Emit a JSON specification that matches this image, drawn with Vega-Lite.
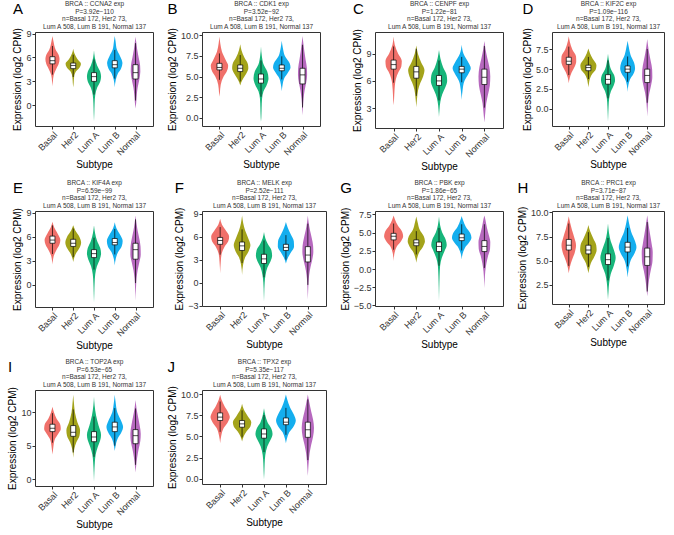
{
"$schema":"https://vega.github.io/schema/vega-lite/v6.json",
"background":"white",
"padding":{"left":7,"top":0,"right":2,"bottom":2},
"columns":4,
"spacing":{"row":6,"column":12},
"datasets":{
"violin":[
{"gene":"CCNA2","g":"Basal","v":8.7,"w":0},{"gene":"CCNA2","g":"Basal","v":8.0,"w":0.05},{"gene":"CCNA2","g":"Basal","v":7.0,"w":0.15},{"gene":"CCNA2","g":"Basal","v":6.3,"w":0.3},{"gene":"CCNA2","g":"Basal","v":5.8,"w":0.34},{"gene":"CCNA2","g":"Basal","v":5.2,"w":0.3},{"gene":"CCNA2","g":"Basal","v":4.5,"w":0.17},{"gene":"CCNA2","g":"Basal","v":3.8,"w":0.06},{"gene":"CCNA2","g":"Basal","v":3.0,"w":0.02},{"gene":"CCNA2","g":"Basal","v":2.4,"w":0},
{"gene":"CCNA2","g":"Her2","v":7.1,"w":0},{"gene":"CCNA2","g":"Her2","v":6.5,"w":0.06},{"gene":"CCNA2","g":"Her2","v":5.8,"w":0.2},{"gene":"CCNA2","g":"Her2","v":5.2,"w":0.37},{"gene":"CCNA2","g":"Her2","v":4.7,"w":0.3},{"gene":"CCNA2","g":"Her2","v":4.2,"w":0.12},{"gene":"CCNA2","g":"Her2","v":3.5,"w":0.04},{"gene":"CCNA2","g":"Her2","v":2.8,"w":0.02},{"gene":"CCNA2","g":"Her2","v":2.25,"w":0},
{"gene":"CCNA2","g":"Lum A","v":6.9,"w":0},{"gene":"CCNA2","g":"Lum A","v":6.0,"w":0.04},{"gene":"CCNA2","g":"Lum A","v":5.0,"w":0.15},{"gene":"CCNA2","g":"Lum A","v":4.2,"w":0.3},{"gene":"CCNA2","g":"Lum A","v":3.6,"w":0.34},{"gene":"CCNA2","g":"Lum A","v":3.0,"w":0.3},{"gene":"CCNA2","g":"Lum A","v":2.2,"w":0.15},{"gene":"CCNA2","g":"Lum A","v":1.3,"w":0.06},{"gene":"CCNA2","g":"Lum A","v":0.3,"w":0.03},{"gene":"CCNA2","g":"Lum A","v":-1.0,"w":0.015},{"gene":"CCNA2","g":"Lum A","v":-2.0,"w":0},
{"gene":"CCNA2","g":"Lum B","v":8.7,"w":0},{"gene":"CCNA2","g":"Lum B","v":8.0,"w":0.04},{"gene":"CCNA2","g":"Lum B","v":7.0,"w":0.1},{"gene":"CCNA2","g":"Lum B","v":6.2,"w":0.25},{"gene":"CCNA2","g":"Lum B","v":5.3,"w":0.37},{"gene":"CCNA2","g":"Lum B","v":4.6,"w":0.3},{"gene":"CCNA2","g":"Lum B","v":4.0,"w":0.15},{"gene":"CCNA2","g":"Lum B","v":3.2,"w":0.05},{"gene":"CCNA2","g":"Lum B","v":2.25,"w":0},
{"gene":"CCNA2","g":"Normal","v":8.6,"w":0},{"gene":"CCNA2","g":"Normal","v":8.0,"w":0.03},{"gene":"CCNA2","g":"Normal","v":7.0,"w":0.08},{"gene":"CCNA2","g":"Normal","v":6.0,"w":0.15},{"gene":"CCNA2","g":"Normal","v":5.0,"w":0.22},{"gene":"CCNA2","g":"Normal","v":4.2,"w":0.23},{"gene":"CCNA2","g":"Normal","v":3.2,"w":0.18},{"gene":"CCNA2","g":"Normal","v":2.2,"w":0.1},{"gene":"CCNA2","g":"Normal","v":1.3,"w":0.06},{"gene":"CCNA2","g":"Normal","v":0.3,"w":0.03},{"gene":"CCNA2","g":"Normal","v":-0.4,"w":0},

{"gene":"CDK1","g":"Basal","v":9.85,"w":0},{"gene":"CDK1","g":"Basal","v":9.0,"w":0.04},{"gene":"CDK1","g":"Basal","v":8.0,"w":0.12},{"gene":"CDK1","g":"Basal","v":7.0,"w":0.3},{"gene":"CDK1","g":"Basal","v":6.3,"w":0.42},{"gene":"CDK1","g":"Basal","v":5.6,"w":0.35},{"gene":"CDK1","g":"Basal","v":5.0,"w":0.2},{"gene":"CDK1","g":"Basal","v":4.0,"w":0.06},{"gene":"CDK1","g":"Basal","v":3.0,"w":0.02},{"gene":"CDK1","g":"Basal","v":2.56,"w":0},
{"gene":"CDK1","g":"Her2","v":8.9,"w":0},{"gene":"CDK1","g":"Her2","v":8.2,"w":0.06},{"gene":"CDK1","g":"Her2","v":7.3,"w":0.2},{"gene":"CDK1","g":"Her2","v":6.5,"w":0.37},{"gene":"CDK1","g":"Her2","v":6.0,"w":0.39},{"gene":"CDK1","g":"Her2","v":5.4,"w":0.3},{"gene":"CDK1","g":"Her2","v":4.8,"w":0.15},{"gene":"CDK1","g":"Her2","v":4.3,"w":0.05},{"gene":"CDK1","g":"Her2","v":3.9,"w":0},
{"gene":"CDK1","g":"Lum A","v":8.65,"w":0},{"gene":"CDK1","g":"Lum A","v":7.5,"w":0.04},{"gene":"CDK1","g":"Lum A","v":6.5,"w":0.12},{"gene":"CDK1","g":"Lum A","v":5.6,"w":0.3},{"gene":"CDK1","g":"Lum A","v":4.8,"w":0.36},{"gene":"CDK1","g":"Lum A","v":4.0,"w":0.28},{"gene":"CDK1","g":"Lum A","v":3.2,"w":0.12},{"gene":"CDK1","g":"Lum A","v":2.3,"w":0.05},{"gene":"CDK1","g":"Lum A","v":1.2,"w":0.03},{"gene":"CDK1","g":"Lum A","v":0.0,"w":0.015},{"gene":"CDK1","g":"Lum A","v":-0.5,"w":0},
{"gene":"CDK1","g":"Lum B","v":9.35,"w":0},{"gene":"CDK1","g":"Lum B","v":8.5,"w":0.05},{"gene":"CDK1","g":"Lum B","v":7.5,"w":0.15},{"gene":"CDK1","g":"Lum B","v":6.6,"w":0.38},{"gene":"CDK1","g":"Lum B","v":6.1,"w":0.42},{"gene":"CDK1","g":"Lum B","v":5.5,"w":0.3},{"gene":"CDK1","g":"Lum B","v":4.8,"w":0.12},{"gene":"CDK1","g":"Lum B","v":4.0,"w":0.04},{"gene":"CDK1","g":"Lum B","v":3.2,"w":0},
{"gene":"CDK1","g":"Normal","v":9.9,"w":0},{"gene":"CDK1","g":"Normal","v":9.0,"w":0.04},{"gene":"CDK1","g":"Normal","v":8.0,"w":0.09},{"gene":"CDK1","g":"Normal","v":7.0,"w":0.15},{"gene":"CDK1","g":"Normal","v":6.0,"w":0.21},{"gene":"CDK1","g":"Normal","v":5.2,"w":0.22},{"gene":"CDK1","g":"Normal","v":4.3,"w":0.18},{"gene":"CDK1","g":"Normal","v":3.3,"w":0.1},{"gene":"CDK1","g":"Normal","v":2.3,"w":0.05},{"gene":"CDK1","g":"Normal","v":1.2,"w":0.02},{"gene":"CDK1","g":"Normal","v":0.3,"w":0},

{"gene":"CENPF","g":"Basal","v":10.9,"w":0},{"gene":"CENPF","g":"Basal","v":10.0,"w":0.05},{"gene":"CENPF","g":"Basal","v":9.0,"w":0.2},{"gene":"CENPF","g":"Basal","v":8.2,"w":0.36},{"gene":"CENPF","g":"Basal","v":7.6,"w":0.34},{"gene":"CENPF","g":"Basal","v":7.0,"w":0.22},{"gene":"CENPF","g":"Basal","v":6.2,"w":0.1},{"gene":"CENPF","g":"Basal","v":5.0,"w":0.04},{"gene":"CENPF","g":"Basal","v":4.0,"w":0.02},{"gene":"CENPF","g":"Basal","v":3.3,"w":0},
{"gene":"CENPF","g":"Her2","v":9.9,"w":0},{"gene":"CENPF","g":"Her2","v":9.0,"w":0.07},{"gene":"CENPF","g":"Her2","v":8.0,"w":0.22},{"gene":"CENPF","g":"Her2","v":7.2,"w":0.36},{"gene":"CENPF","g":"Her2","v":6.5,"w":0.3},{"gene":"CENPF","g":"Her2","v":5.8,"w":0.18},{"gene":"CENPF","g":"Her2","v":5.0,"w":0.08},{"gene":"CENPF","g":"Her2","v":4.0,"w":0.03},{"gene":"CENPF","g":"Her2","v":3.1,"w":0},
{"gene":"CENPF","g":"Lum A","v":9.4,"w":0},{"gene":"CENPF","g":"Lum A","v":8.5,"w":0.06},{"gene":"CENPF","g":"Lum A","v":7.5,"w":0.18},{"gene":"CENPF","g":"Lum A","v":6.6,"w":0.34},{"gene":"CENPF","g":"Lum A","v":6.0,"w":0.36},{"gene":"CENPF","g":"Lum A","v":5.3,"w":0.28},{"gene":"CENPF","g":"Lum A","v":4.5,"w":0.14},{"gene":"CENPF","g":"Lum A","v":3.7,"w":0.06},{"gene":"CENPF","g":"Lum A","v":2.8,"w":0.02},{"gene":"CENPF","g":"Lum A","v":2.0,"w":0},
{"gene":"CENPF","g":"Lum B","v":10.0,"w":0},{"gene":"CENPF","g":"Lum B","v":9.0,"w":0.08},{"gene":"CENPF","g":"Lum B","v":8.0,"w":0.3},{"gene":"CENPF","g":"Lum B","v":7.4,"w":0.4},{"gene":"CENPF","g":"Lum B","v":6.8,"w":0.3},{"gene":"CENPF","g":"Lum B","v":6.0,"w":0.12},{"gene":"CENPF","g":"Lum B","v":5.0,"w":0.04},{"gene":"CENPF","g":"Lum B","v":3.9,"w":0},
{"gene":"CENPF","g":"Normal","v":10.4,"w":0},{"gene":"CENPF","g":"Normal","v":9.5,"w":0.05},{"gene":"CENPF","g":"Normal","v":8.5,"w":0.13},{"gene":"CENPF","g":"Normal","v":7.5,"w":0.22},{"gene":"CENPF","g":"Normal","v":6.5,"w":0.26},{"gene":"CENPF","g":"Normal","v":5.5,"w":0.24},{"gene":"CENPF","g":"Normal","v":4.5,"w":0.16},{"gene":"CENPF","g":"Normal","v":3.5,"w":0.08},{"gene":"CENPF","g":"Normal","v":2.5,"w":0.04},{"gene":"CENPF","g":"Normal","v":1.4,"w":0},

{"gene":"KIF2C","g":"Basal","v":9.15,"w":0},{"gene":"KIF2C","g":"Basal","v":8.5,"w":0.05},{"gene":"KIF2C","g":"Basal","v":7.5,"w":0.18},{"gene":"KIF2C","g":"Basal","v":6.6,"w":0.37},{"gene":"KIF2C","g":"Basal","v":6.0,"w":0.38},{"gene":"KIF2C","g":"Basal","v":5.3,"w":0.3},{"gene":"KIF2C","g":"Basal","v":4.6,"w":0.15},{"gene":"KIF2C","g":"Basal","v":3.9,"w":0.05},{"gene":"KIF2C","g":"Basal","v":3.2,"w":0},
{"gene":"KIF2C","g":"Her2","v":7.6,"w":0},{"gene":"KIF2C","g":"Her2","v":7.0,"w":0.08},{"gene":"KIF2C","g":"Her2","v":6.3,"w":0.22},{"gene":"KIF2C","g":"Her2","v":5.5,"w":0.41},{"gene":"KIF2C","g":"Her2","v":5.0,"w":0.38},{"gene":"KIF2C","g":"Her2","v":4.4,"w":0.2},{"gene":"KIF2C","g":"Her2","v":3.8,"w":0.08},{"gene":"KIF2C","g":"Her2","v":3.2,"w":0.03},{"gene":"KIF2C","g":"Her2","v":2.7,"w":0},
{"gene":"KIF2C","g":"Lum A","v":6.95,"w":0},{"gene":"KIF2C","g":"Lum A","v":6.0,"w":0.05},{"gene":"KIF2C","g":"Lum A","v":5.0,"w":0.15},{"gene":"KIF2C","g":"Lum A","v":4.2,"w":0.32},{"gene":"KIF2C","g":"Lum A","v":3.6,"w":0.36},{"gene":"KIF2C","g":"Lum A","v":3.0,"w":0.3},{"gene":"KIF2C","g":"Lum A","v":2.2,"w":0.15},{"gene":"KIF2C","g":"Lum A","v":1.3,"w":0.06},{"gene":"KIF2C","g":"Lum A","v":0.3,"w":0.03},{"gene":"KIF2C","g":"Lum A","v":-1.0,"w":0.01},{"gene":"KIF2C","g":"Lum A","v":-1.65,"w":0},
{"gene":"KIF2C","g":"Lum B","v":8.6,"w":0},{"gene":"KIF2C","g":"Lum B","v":7.8,"w":0.06},{"gene":"KIF2C","g":"Lum B","v":6.8,"w":0.15},{"gene":"KIF2C","g":"Lum B","v":5.8,"w":0.33},{"gene":"KIF2C","g":"Lum B","v":5.1,"w":0.38},{"gene":"KIF2C","g":"Lum B","v":4.4,"w":0.3},{"gene":"KIF2C","g":"Lum B","v":3.7,"w":0.12},{"gene":"KIF2C","g":"Lum B","v":3.0,"w":0.04},{"gene":"KIF2C","g":"Lum B","v":2.1,"w":0},
{"gene":"KIF2C","g":"Normal","v":8.8,"w":0},{"gene":"KIF2C","g":"Normal","v":8.0,"w":0.04},{"gene":"KIF2C","g":"Normal","v":7.0,"w":0.1},{"gene":"KIF2C","g":"Normal","v":6.0,"w":0.18},{"gene":"KIF2C","g":"Normal","v":5.0,"w":0.25},{"gene":"KIF2C","g":"Normal","v":4.0,"w":0.26},{"gene":"KIF2C","g":"Normal","v":3.0,"w":0.2},{"gene":"KIF2C","g":"Normal","v":2.0,"w":0.11},{"gene":"KIF2C","g":"Normal","v":1.0,"w":0.05},{"gene":"KIF2C","g":"Normal","v":0.0,"w":0.02},{"gene":"KIF2C","g":"Normal","v":-1.0,"w":0},

{"gene":"KIF4A","g":"Basal","v":7.9,"w":0},{"gene":"KIF4A","g":"Basal","v":7.2,"w":0.08},{"gene":"KIF4A","g":"Basal","v":6.4,"w":0.25},{"gene":"KIF4A","g":"Basal","v":5.6,"w":0.38},{"gene":"KIF4A","g":"Basal","v":5.0,"w":0.33},{"gene":"KIF4A","g":"Basal","v":4.3,"w":0.18},{"gene":"KIF4A","g":"Basal","v":3.6,"w":0.06},{"gene":"KIF4A","g":"Basal","v":3.0,"w":0.02},{"gene":"KIF4A","g":"Basal","v":2.55,"w":0},
{"gene":"KIF4A","g":"Her2","v":7.45,"w":0},{"gene":"KIF4A","g":"Her2","v":6.8,"w":0.1},{"gene":"KIF4A","g":"Her2","v":6.0,"w":0.3},{"gene":"KIF4A","g":"Her2","v":5.3,"w":0.38},{"gene":"KIF4A","g":"Her2","v":4.6,"w":0.3},{"gene":"KIF4A","g":"Her2","v":4.0,"w":0.15},{"gene":"KIF4A","g":"Her2","v":3.4,"w":0.05},{"gene":"KIF4A","g":"Her2","v":2.85,"w":0},
{"gene":"KIF4A","g":"Lum A","v":7.45,"w":0},{"gene":"KIF4A","g":"Lum A","v":6.5,"w":0.05},{"gene":"KIF4A","g":"Lum A","v":5.5,"w":0.15},{"gene":"KIF4A","g":"Lum A","v":4.6,"w":0.3},{"gene":"KIF4A","g":"Lum A","v":3.9,"w":0.34},{"gene":"KIF4A","g":"Lum A","v":3.2,"w":0.28},{"gene":"KIF4A","g":"Lum A","v":2.3,"w":0.14},{"gene":"KIF4A","g":"Lum A","v":1.3,"w":0.06},{"gene":"KIF4A","g":"Lum A","v":0.2,"w":0.03},{"gene":"KIF4A","g":"Lum A","v":-1.0,"w":0.015},{"gene":"KIF4A","g":"Lum A","v":-2.25,"w":0},
{"gene":"KIF4A","g":"Lum B","v":7.85,"w":0},{"gene":"KIF4A","g":"Lum B","v":7.1,"w":0.08},{"gene":"KIF4A","g":"Lum B","v":6.3,"w":0.25},{"gene":"KIF4A","g":"Lum B","v":5.5,"w":0.38},{"gene":"KIF4A","g":"Lum B","v":4.8,"w":0.33},{"gene":"KIF4A","g":"Lum B","v":4.1,"w":0.16},{"gene":"KIF4A","g":"Lum B","v":3.3,"w":0.05},{"gene":"KIF4A","g":"Lum B","v":2.4,"w":0},
{"gene":"KIF4A","g":"Normal","v":8.7,"w":0},{"gene":"KIF4A","g":"Normal","v":7.8,"w":0.04},{"gene":"KIF4A","g":"Normal","v":6.8,"w":0.1},{"gene":"KIF4A","g":"Normal","v":5.8,"w":0.18},{"gene":"KIF4A","g":"Normal","v":4.8,"w":0.24},{"gene":"KIF4A","g":"Normal","v":3.8,"w":0.25},{"gene":"KIF4A","g":"Normal","v":2.8,"w":0.18},{"gene":"KIF4A","g":"Normal","v":1.8,"w":0.1},{"gene":"KIF4A","g":"Normal","v":0.8,"w":0.05},{"gene":"KIF4A","g":"Normal","v":-0.5,"w":0.02},{"gene":"KIF4A","g":"Normal","v":-2.0,"w":0},

{"gene":"MELK","g":"Basal","v":8.35,"w":0},{"gene":"MELK","g":"Basal","v":7.6,"w":0.08},{"gene":"MELK","g":"Basal","v":6.8,"w":0.26},{"gene":"MELK","g":"Basal","v":6.0,"w":0.41},{"gene":"MELK","g":"Basal","v":5.4,"w":0.37},{"gene":"MELK","g":"Basal","v":4.7,"w":0.2},{"gene":"MELK","g":"Basal","v":3.8,"w":0.07},{"gene":"MELK","g":"Basal","v":2.8,"w":0.03},{"gene":"MELK","g":"Basal","v":1.2,"w":0},
{"gene":"MELK","g":"Her2","v":8.75,"w":0},{"gene":"MELK","g":"Her2","v":7.8,"w":0.05},{"gene":"MELK","g":"Her2","v":6.8,"w":0.14},{"gene":"MELK","g":"Her2","v":5.8,"w":0.28},{"gene":"MELK","g":"Her2","v":4.9,"w":0.38},{"gene":"MELK","g":"Her2","v":4.1,"w":0.3},{"gene":"MELK","g":"Her2","v":3.3,"w":0.14},{"gene":"MELK","g":"Her2","v":2.4,"w":0.05},{"gene":"MELK","g":"Her2","v":1.0,"w":0},
{"gene":"MELK","g":"Lum A","v":6.6,"w":0},{"gene":"MELK","g":"Lum A","v":5.8,"w":0.06},{"gene":"MELK","g":"Lum A","v":5.0,"w":0.18},{"gene":"MELK","g":"Lum A","v":4.2,"w":0.34},{"gene":"MELK","g":"Lum A","v":3.5,"w":0.37},{"gene":"MELK","g":"Lum A","v":2.8,"w":0.3},{"gene":"MELK","g":"Lum A","v":2.0,"w":0.16},{"gene":"MELK","g":"Lum A","v":1.0,"w":0.07},{"gene":"MELK","g":"Lum A","v":0.0,"w":0.03},{"gene":"MELK","g":"Lum A","v":-1.5,"w":0.01},{"gene":"MELK","g":"Lum A","v":-2.5,"w":0},
{"gene":"MELK","g":"Lum B","v":7.9,"w":0},{"gene":"MELK","g":"Lum B","v":7.2,"w":0.08},{"gene":"MELK","g":"Lum B","v":6.3,"w":0.22},{"gene":"MELK","g":"Lum B","v":5.4,"w":0.36},{"gene":"MELK","g":"Lum B","v":4.7,"w":0.37},{"gene":"MELK","g":"Lum B","v":4.0,"w":0.24},{"gene":"MELK","g":"Lum B","v":3.3,"w":0.1},{"gene":"MELK","g":"Lum B","v":2.5,"w":0},
{"gene":"MELK","g":"Normal","v":8.75,"w":0},{"gene":"MELK","g":"Normal","v":7.8,"w":0.04},{"gene":"MELK","g":"Normal","v":6.8,"w":0.1},{"gene":"MELK","g":"Normal","v":5.8,"w":0.18},{"gene":"MELK","g":"Normal","v":4.8,"w":0.24},{"gene":"MELK","g":"Normal","v":4.0,"w":0.25},{"gene":"MELK","g":"Normal","v":3.0,"w":0.2},{"gene":"MELK","g":"Normal","v":2.0,"w":0.12},{"gene":"MELK","g":"Normal","v":1.0,"w":0.06},{"gene":"MELK","g":"Normal","v":0.0,"w":0.03},{"gene":"MELK","g":"Normal","v":-1.0,"w":0.015},{"gene":"MELK","g":"Normal","v":-2.2,"w":0},

{"gene":"PBK","g":"Basal","v":7.35,"w":0},{"gene":"PBK","g":"Basal","v":6.8,"w":0.06},{"gene":"PBK","g":"Basal","v":6.0,"w":0.18},{"gene":"PBK","g":"Basal","v":5.1,"w":0.38},{"gene":"PBK","g":"Basal","v":4.5,"w":0.42},{"gene":"PBK","g":"Basal","v":3.9,"w":0.34},{"gene":"PBK","g":"Basal","v":3.1,"w":0.14},{"gene":"PBK","g":"Basal","v":2.2,"w":0.04},{"gene":"PBK","g":"Basal","v":1.1,"w":0},
{"gene":"PBK","g":"Her2","v":7.2,"w":0},{"gene":"PBK","g":"Her2","v":6.4,"w":0.06},{"gene":"PBK","g":"Her2","v":5.4,"w":0.15},{"gene":"PBK","g":"Her2","v":4.5,"w":0.33},{"gene":"PBK","g":"Her2","v":3.8,"w":0.38},{"gene":"PBK","g":"Her2","v":3.1,"w":0.3},{"gene":"PBK","g":"Her2","v":2.3,"w":0.13},{"gene":"PBK","g":"Her2","v":1.5,"w":0.04},{"gene":"PBK","g":"Her2","v":0.85,"w":0},
{"gene":"PBK","g":"Lum A","v":7.2,"w":0},{"gene":"PBK","g":"Lum A","v":6.0,"w":0.05},{"gene":"PBK","g":"Lum A","v":5.0,"w":0.14},{"gene":"PBK","g":"Lum A","v":4.0,"w":0.3},{"gene":"PBK","g":"Lum A","v":3.3,"w":0.34},{"gene":"PBK","g":"Lum A","v":2.5,"w":0.25},{"gene":"PBK","g":"Lum A","v":1.5,"w":0.12},{"gene":"PBK","g":"Lum A","v":0.5,"w":0.05},{"gene":"PBK","g":"Lum A","v":-1.0,"w":0.025},{"gene":"PBK","g":"Lum A","v":-2.5,"w":0.012},{"gene":"PBK","g":"Lum A","v":-4.4,"w":0},
{"gene":"PBK","g":"Lum B","v":7.3,"w":0},{"gene":"PBK","g":"Lum B","v":6.7,"w":0.06},{"gene":"PBK","g":"Lum B","v":5.8,"w":0.18},{"gene":"PBK","g":"Lum B","v":4.9,"w":0.38},{"gene":"PBK","g":"Lum B","v":4.3,"w":0.43},{"gene":"PBK","g":"Lum B","v":3.7,"w":0.34},{"gene":"PBK","g":"Lum B","v":2.9,"w":0.14},{"gene":"PBK","g":"Lum B","v":2.1,"w":0.04},{"gene":"PBK","g":"Lum B","v":1.3,"w":0},
{"gene":"PBK","g":"Normal","v":7.35,"w":0},{"gene":"PBK","g":"Normal","v":6.7,"w":0.05},{"gene":"PBK","g":"Normal","v":5.7,"w":0.11},{"gene":"PBK","g":"Normal","v":4.7,"w":0.19},{"gene":"PBK","g":"Normal","v":3.7,"w":0.26},{"gene":"PBK","g":"Normal","v":2.8,"w":0.25},{"gene":"PBK","g":"Normal","v":1.8,"w":0.16},{"gene":"PBK","g":"Normal","v":0.8,"w":0.09},{"gene":"PBK","g":"Normal","v":-0.3,"w":0.04},{"gene":"PBK","g":"Normal","v":-1.5,"w":0.015},{"gene":"PBK","g":"Normal","v":-2.6,"w":0},

{"gene":"PRC1","g":"Basal","v":9.6,"w":0},{"gene":"PRC1","g":"Basal","v":9.0,"w":0.06},{"gene":"PRC1","g":"Basal","v":8.2,"w":0.16},{"gene":"PRC1","g":"Basal","v":7.4,"w":0.28},{"gene":"PRC1","g":"Basal","v":6.6,"w":0.37},{"gene":"PRC1","g":"Basal","v":5.8,"w":0.3},{"gene":"PRC1","g":"Basal","v":5.0,"w":0.15},{"gene":"PRC1","g":"Basal","v":4.3,"w":0.05},{"gene":"PRC1","g":"Basal","v":3.7,"w":0},
{"gene":"PRC1","g":"Her2","v":8.7,"w":0},{"gene":"PRC1","g":"Her2","v":8.1,"w":0.08},{"gene":"PRC1","g":"Her2","v":7.3,"w":0.25},{"gene":"PRC1","g":"Her2","v":6.6,"w":0.4},{"gene":"PRC1","g":"Her2","v":6.1,"w":0.42},{"gene":"PRC1","g":"Her2","v":5.4,"w":0.3},{"gene":"PRC1","g":"Her2","v":4.7,"w":0.12},{"gene":"PRC1","g":"Her2","v":4.1,"w":0.04},{"gene":"PRC1","g":"Her2","v":3.7,"w":0},
{"gene":"PRC1","g":"Lum A","v":8.85,"w":0},{"gene":"PRC1","g":"Lum A","v":7.9,"w":0.05},{"gene":"PRC1","g":"Lum A","v":7.0,"w":0.14},{"gene":"PRC1","g":"Lum A","v":6.1,"w":0.3},{"gene":"PRC1","g":"Lum A","v":5.3,"w":0.39},{"gene":"PRC1","g":"Lum A","v":4.5,"w":0.3},{"gene":"PRC1","g":"Lum A","v":3.6,"w":0.14},{"gene":"PRC1","g":"Lum A","v":2.7,"w":0.06},{"gene":"PRC1","g":"Lum A","v":1.8,"w":0.025},{"gene":"PRC1","g":"Lum A","v":0.95,"w":0},
{"gene":"PRC1","g":"Lum B","v":9.7,"w":0},{"gene":"PRC1","g":"Lum B","v":9.0,"w":0.06},{"gene":"PRC1","g":"Lum B","v":8.0,"w":0.18},{"gene":"PRC1","g":"Lum B","v":7.0,"w":0.38},{"gene":"PRC1","g":"Lum B","v":6.4,"w":0.45},{"gene":"PRC1","g":"Lum B","v":5.8,"w":0.36},{"gene":"PRC1","g":"Lum B","v":5.0,"w":0.15},{"gene":"PRC1","g":"Lum B","v":4.1,"w":0.05},{"gene":"PRC1","g":"Lum B","v":3.25,"w":0},
{"gene":"PRC1","g":"Normal","v":9.7,"w":0},{"gene":"PRC1","g":"Normal","v":8.8,"w":0.06},{"gene":"PRC1","g":"Normal","v":7.8,"w":0.14},{"gene":"PRC1","g":"Normal","v":6.8,"w":0.22},{"gene":"PRC1","g":"Normal","v":5.9,"w":0.28},{"gene":"PRC1","g":"Normal","v":5.0,"w":0.27},{"gene":"PRC1","g":"Normal","v":4.0,"w":0.18},{"gene":"PRC1","g":"Normal","v":3.0,"w":0.09},{"gene":"PRC1","g":"Normal","v":2.1,"w":0.04},{"gene":"PRC1","g":"Normal","v":1.3,"w":0},

{"gene":"TOP2A","g":"Basal","v":10.8,"w":0},{"gene":"TOP2A","g":"Basal","v":10.0,"w":0.07},{"gene":"TOP2A","g":"Basal","v":9.0,"w":0.2},{"gene":"TOP2A","g":"Basal","v":8.1,"w":0.38},{"gene":"TOP2A","g":"Basal","v":7.5,"w":0.4},{"gene":"TOP2A","g":"Basal","v":6.8,"w":0.28},{"gene":"TOP2A","g":"Basal","v":6.0,"w":0.12},{"gene":"TOP2A","g":"Basal","v":5.0,"w":0.05},{"gene":"TOP2A","g":"Basal","v":4.2,"w":0.02},{"gene":"TOP2A","g":"Basal","v":3.7,"w":0},
{"gene":"TOP2A","g":"Her2","v":12.6,"w":0},{"gene":"TOP2A","g":"Her2","v":11.5,"w":0.03},{"gene":"TOP2A","g":"Her2","v":10.0,"w":0.08},{"gene":"TOP2A","g":"Her2","v":8.5,"w":0.2},{"gene":"TOP2A","g":"Her2","v":7.3,"w":0.33},{"gene":"TOP2A","g":"Her2","v":6.5,"w":0.3},{"gene":"TOP2A","g":"Her2","v":5.5,"w":0.15},{"gene":"TOP2A","g":"Her2","v":4.5,"w":0.05},{"gene":"TOP2A","g":"Her2","v":3.2,"w":0},
{"gene":"TOP2A","g":"Lum A","v":12.3,"w":0},{"gene":"TOP2A","g":"Lum A","v":11.0,"w":0.03},{"gene":"TOP2A","g":"Lum A","v":9.5,"w":0.1},{"gene":"TOP2A","g":"Lum A","v":8.0,"w":0.22},{"gene":"TOP2A","g":"Lum A","v":6.6,"w":0.34},{"gene":"TOP2A","g":"Lum A","v":5.8,"w":0.3},{"gene":"TOP2A","g":"Lum A","v":4.8,"w":0.18},{"gene":"TOP2A","g":"Lum A","v":3.7,"w":0.08},{"gene":"TOP2A","g":"Lum A","v":2.5,"w":0.04},{"gene":"TOP2A","g":"Lum A","v":1.0,"w":0.015},{"gene":"TOP2A","g":"Lum A","v":-0.35,"w":0},
{"gene":"TOP2A","g":"Lum B","v":12.6,"w":0},{"gene":"TOP2A","g":"Lum B","v":11.5,"w":0.04},{"gene":"TOP2A","g":"Lum B","v":10.0,"w":0.12},{"gene":"TOP2A","g":"Lum B","v":8.6,"w":0.32},{"gene":"TOP2A","g":"Lum B","v":7.8,"w":0.4},{"gene":"TOP2A","g":"Lum B","v":7.0,"w":0.32},{"gene":"TOP2A","g":"Lum B","v":6.0,"w":0.13},{"gene":"TOP2A","g":"Lum B","v":5.0,"w":0.04},{"gene":"TOP2A","g":"Lum B","v":4.2,"w":0},
{"gene":"TOP2A","g":"Normal","v":11.8,"w":0},{"gene":"TOP2A","g":"Normal","v":10.5,"w":0.05},{"gene":"TOP2A","g":"Normal","v":9.3,"w":0.12},{"gene":"TOP2A","g":"Normal","v":8.0,"w":0.2},{"gene":"TOP2A","g":"Normal","v":6.8,"w":0.25},{"gene":"TOP2A","g":"Normal","v":5.7,"w":0.23},{"gene":"TOP2A","g":"Normal","v":4.5,"w":0.15},{"gene":"TOP2A","g":"Normal","v":3.3,"w":0.08},{"gene":"TOP2A","g":"Normal","v":2.0,"w":0.03},{"gene":"TOP2A","g":"Normal","v":1.0,"w":0},

{"gene":"TPX2","g":"Basal","v":9.95,"w":0},{"gene":"TPX2","g":"Basal","v":9.4,"w":0.06},{"gene":"TPX2","g":"Basal","v":8.6,"w":0.2},{"gene":"TPX2","g":"Basal","v":7.8,"w":0.38},{"gene":"TPX2","g":"Basal","v":7.3,"w":0.44},{"gene":"TPX2","g":"Basal","v":6.7,"w":0.35},{"gene":"TPX2","g":"Basal","v":6.0,"w":0.16},{"gene":"TPX2","g":"Basal","v":5.1,"w":0.05},{"gene":"TPX2","g":"Basal","v":4.2,"w":0},
{"gene":"TPX2","g":"Her2","v":8.9,"w":0},{"gene":"TPX2","g":"Her2","v":8.2,"w":0.08},{"gene":"TPX2","g":"Her2","v":7.4,"w":0.26},{"gene":"TPX2","g":"Her2","v":6.7,"w":0.42},{"gene":"TPX2","g":"Her2","v":6.2,"w":0.38},{"gene":"TPX2","g":"Her2","v":5.6,"w":0.2},{"gene":"TPX2","g":"Her2","v":5.0,"w":0.07},{"gene":"TPX2","g":"Her2","v":4.4,"w":0},
{"gene":"TPX2","g":"Lum A","v":8.35,"w":0},{"gene":"TPX2","g":"Lum A","v":7.5,"w":0.06},{"gene":"TPX2","g":"Lum A","v":6.7,"w":0.16},{"gene":"TPX2","g":"Lum A","v":5.9,"w":0.34},{"gene":"TPX2","g":"Lum A","v":5.3,"w":0.39},{"gene":"TPX2","g":"Lum A","v":4.6,"w":0.3},{"gene":"TPX2","g":"Lum A","v":3.8,"w":0.15},{"gene":"TPX2","g":"Lum A","v":2.8,"w":0.06},{"gene":"TPX2","g":"Lum A","v":1.8,"w":0.03},{"gene":"TPX2","g":"Lum A","v":0.7,"w":0.015},{"gene":"TPX2","g":"Lum A","v":-0.1,"w":0},
{"gene":"TPX2","g":"Lum B","v":10.0,"w":0},{"gene":"TPX2","g":"Lum B","v":9.4,"w":0.06},{"gene":"TPX2","g":"Lum B","v":8.5,"w":0.18},{"gene":"TPX2","g":"Lum B","v":7.6,"w":0.36},{"gene":"TPX2","g":"Lum B","v":6.9,"w":0.45},{"gene":"TPX2","g":"Lum B","v":6.2,"w":0.35},{"gene":"TPX2","g":"Lum B","v":5.5,"w":0.15},{"gene":"TPX2","g":"Lum B","v":4.8,"w":0.05},{"gene":"TPX2","g":"Lum B","v":4.2,"w":0},
{"gene":"TPX2","g":"Normal","v":10.0,"w":0},{"gene":"TPX2","g":"Normal","v":9.0,"w":0.07},{"gene":"TPX2","g":"Normal","v":8.0,"w":0.15},{"gene":"TPX2","g":"Normal","v":7.0,"w":0.24},{"gene":"TPX2","g":"Normal","v":6.0,"w":0.28},{"gene":"TPX2","g":"Normal","v":5.0,"w":0.24},{"gene":"TPX2","g":"Normal","v":4.0,"w":0.15},{"gene":"TPX2","g":"Normal","v":3.0,"w":0.08},{"gene":"TPX2","g":"Normal","v":2.0,"w":0.04},{"gene":"TPX2","g":"Normal","v":1.0,"w":0.015},{"gene":"TPX2","g":"Normal","v":0.3,"w":0}
],
"box":[
{"gene":"CCNA2","g":"Basal","lo":3.85,"q1":5.2,"med":5.6,"q3":6.1,"hi":7.45},{"gene":"CCNA2","g":"Her2","lo":3.55,"q1":4.6,"med":5.0,"q3":5.3,"hi":6.35},{"gene":"CCNA2","g":"Lum A","lo":1.35,"q1":3.0,"med":3.6,"q3":4.1,"hi":5.75},{"gene":"CCNA2","g":"Lum B","lo":3.35,"q1":4.7,"med":5.1,"q3":5.6,"hi":6.95},{"gene":"CCNA2","g":"Normal","lo":0.6,"q1":3.3,"med":4.1,"q3":5.1,"hi":7.8},
{"gene":"CDK1","g":"Basal","lo":4.6,"q1":5.8,"med":6.1,"q3":6.6,"hi":7.8},{"gene":"CDK1","g":"Her2","lo":4.4,"q1":5.6,"med":6.0,"q3":6.4,"hi":7.6},{"gene":"CDK1","g":"Lum A","lo":2.55,"q1":4.2,"med":4.7,"q3":5.3,"hi":6.95},{"gene":"CDK1","g":"Lum B","lo":4.65,"q1":5.7,"med":6.0,"q3":6.4,"hi":7.45},{"gene":"CDK1","g":"Normal","lo":1.25,"q1":4.1,"med":5.2,"q3":6.0,"hi":8.85},
{"gene":"CENPF","g":"Basal","lo":5.8,"q1":7.3,"med":7.8,"q3":8.3,"hi":9.8},{"gene":"CENPF","g":"Her2","lo":4.35,"q1":6.3,"med":7.0,"q3":7.6,"hi":9.55},{"gene":"CENPF","g":"Lum A","lo":3.85,"q1":5.5,"med":6.0,"q3":6.6,"hi":8.25},{"gene":"CENPF","g":"Lum B","lo":5.85,"q1":6.9,"med":7.3,"q3":7.6,"hi":8.65},{"gene":"CENPF","g":"Normal","lo":3.05,"q1":5.6,"med":6.4,"q3":7.3,"hi":9.85},
{"gene":"KIF2C","g":"Basal","lo":4.25,"q1":5.6,"med":6.0,"q3":6.5,"hi":7.85},{"gene":"KIF2C","g":"Her2","lo":3.75,"q1":4.8,"med":5.2,"q3":5.5,"hi":6.55},{"gene":"KIF2C","g":"Lum A","lo":1.3,"q1":3.1,"med":3.7,"q3":4.3,"hi":6.1},{"gene":"KIF2C","g":"Lum B","lo":3.4,"q1":4.6,"med":5.0,"q3":5.4,"hi":6.6},{"gene":"KIF2C","g":"Normal","lo":0.75,"q1":3.3,"med":4.2,"q3":5.0,"hi":7.55},
{"gene":"KIF4A","g":"Basal","lo":3.85,"q1":5.2,"med":5.6,"q3":6.1,"hi":7.45},{"gene":"KIF4A","g":"Her2","lo":3.45,"q1":4.8,"med":5.2,"q3":5.7,"hi":7.05},{"gene":"KIF4A","g":"Lum A","lo":1.9,"q1":3.4,"med":3.9,"q3":4.4,"hi":5.9},{"gene":"KIF4A","g":"Lum B","lo":3.8,"q1":5.0,"med":5.3,"q3":5.8,"hi":7.0},{"gene":"KIF4A","g":"Normal","lo":0.2,"q1":3.2,"med":4.4,"q3":5.2,"hi":8.2},
{"gene":"MELK","g":"Basal","lo":3.65,"q1":5.0,"med":5.5,"q3":5.9,"hi":7.25},{"gene":"MELK","g":"Her2","lo":2.55,"q1":4.2,"med":4.8,"q3":5.3,"hi":6.95},{"gene":"MELK","g":"Lum A","lo":0.7,"q1":2.5,"med":3.1,"q3":3.7,"hi":5.5},{"gene":"MELK","g":"Lum B","lo":3.0,"q1":4.2,"med":4.6,"q3":5.0,"hi":6.2},{"gene":"MELK","g":"Normal","lo":-0.3,"q1":2.7,"med":3.6,"q3":4.7,"hi":7.7},
{"gene":"PBK","g":"Basal","lo":2.65,"q1":4.0,"med":4.5,"q3":4.9,"hi":6.25},{"gene":"PBK","g":"Her2","lo":2.0,"q1":3.2,"med":3.6,"q3":4.0,"hi":5.2},{"gene":"PBK","g":"Lum A","lo":0.45,"q1":2.4,"med":3.1,"q3":3.7,"hi":5.65},{"gene":"PBK","g":"Lum B","lo":2.55,"q1":3.9,"med":4.3,"q3":4.8,"hi":6.15},{"gene":"PBK","g":"Normal","lo":0.15,"q1":2.4,"med":3.1,"q3":3.9,"hi":6.15},
{"gene":"PRC1","g":"Basal","lo":4.45,"q1":6.1,"med":6.6,"q3":7.2,"hi":8.85},{"gene":"PRC1","g":"Her2","lo":4.35,"q1":5.7,"med":6.1,"q3":6.6,"hi":7.95},{"gene":"PRC1","g":"Lum A","lo":2.95,"q1":4.6,"med":5.1,"q3":5.7,"hi":7.35},{"gene":"PRC1","g":"Lum B","lo":4.4,"q1":5.9,"med":6.4,"q3":6.9,"hi":8.4},{"gene":"PRC1","g":"Normal","lo":1.8,"q1":4.5,"med":5.4,"q3":6.3,"hi":9.0},
{"gene":"TOP2A","g":"Basal","lo":5.45,"q1":7.1,"med":7.6,"q3":8.2,"hi":9.85},{"gene":"TOP2A","g":"Her2","lo":4.0,"q1":6.4,"med":7.0,"q3":8.0,"hi":10.4},{"gene":"TOP2A","g":"Lum A","lo":3.35,"q1":5.6,"med":6.3,"q3":7.1,"hi":9.35},{"gene":"TOP2A","g":"Lum B","lo":5.0,"q1":7.1,"med":7.8,"q3":8.5,"hi":10.6},{"gene":"TOP2A","g":"Normal","lo":2.15,"q1":5.3,"med":6.5,"q3":7.4,"hi":10.55},
{"gene":"TPX2","g":"Basal","lo":5.55,"q1":6.9,"med":7.3,"q3":7.8,"hi":9.15},{"gene":"TPX2","g":"Her2","lo":4.9,"q1":6.1,"med":6.5,"q3":6.9,"hi":8.1},{"gene":"TPX2","g":"Lum A","lo":3.15,"q1":4.8,"med":5.3,"q3":5.9,"hi":7.55},{"gene":"TPX2","g":"Lum B","lo":5.2,"q1":6.4,"med":6.7,"q3":7.2,"hi":8.4},{"gene":"TPX2","g":"Normal","lo":2.2,"q1":4.9,"med":5.8,"q3":6.7,"hi":9.4}
]
},
"concat":[
{"width":118,"height":94,"title":"A",
 "layer":[
  {"data":{"name":"violin"},"transform":[{"filter":"datum.gene==='CCNA2'"},{"calculate":"indexof(['Basal','Her2','Lum A','Lum B','Normal'],datum.g)+1","as":"i"},{"calculate":"datum.i-datum.w","as":"x0"},{"calculate":"datum.i+datum.w","as":"x1"}],
   "mark":{"type":"area","orient":"horizontal","interpolate":"monotone"},
   "encoding":{"y":{"field":"v","type":"quantitative","title":"Expression (log2 CPM)","scale":{"domain":[-2.6,9.2],"nice":false,"zero":false},"axis":{"values":[0,3,6,9]}},
    "x":{"field":"x0","type":"quantitative","title":"Subtype","scale":{"domain":[0.4,5.6],"nice":false,"zero":false},"axis":{"values":[1,2,3,4,5],"labelExpr":"['Basal','Her2','Lum A','Lum B','Normal'][datum.value-1]"}},
    "x2":{"field":"x1"},
    "color":{"field":"g","type":"nominal","scale":{"domain":["Basal","Her2","Lum A","Lum B","Normal"],"range":["#F0706A","#A3A31A","#17B57A","#14AEEE","#B668BE"]},"legend":null}}},
  {"data":{"name":"box"},"transform":[{"filter":"datum.gene==='CCNA2'"},{"calculate":"indexof(['Basal','Her2','Lum A','Lum B','Normal'],datum.g)+1","as":"i"}],
   "encoding":{"x":{"field":"i","type":"quantitative","scale":{"domain":[0.4,5.6],"nice":false,"zero":false},"axis":{"orient":"top","title":["BRCA :: CCNA2 exp","P=3.92e−110","n=Basal 172, Her2 73,","Lum A 508, Lum B 191, Normal 137"]}}},
   "layer":[
    {"mark":{"type":"rule","color":"black","strokeWidth":0.7},"encoding":{"y":{"field":"lo","type":"quantitative","title":"Expression (log2 CPM)","scale":{"domain":[-2.6,9.2],"nice":false,"zero":false}},"y2":{"field":"hi"}}},
    {"mark":{"type":"bar","size":5,"fill":"white","stroke":"black","strokeWidth":0.7},"encoding":{"y":{"field":"q1","type":"quantitative","title":"Expression (log2 CPM)","scale":{"domain":[-2.6,9.2],"nice":false,"zero":false}},"y2":{"field":"q3"}}},
    {"mark":{"type":"tick","orient":"horizontal","size":5,"thickness":1,"color":"black"},"encoding":{"y":{"field":"med","type":"quantitative","title":"Expression (log2 CPM)","scale":{"domain":[-2.6,9.2],"nice":false,"zero":false}}}}
   ]}
 ],
 "resolve":{"axis":{"x":"independent"}}},

{"width":118,"height":94,"title":"B",
 "layer":[
  {"data":{"name":"violin"},"transform":[{"filter":"datum.gene==='CDK1'"},{"calculate":"indexof(['Basal','Her2','Lum A','Lum B','Normal'],datum.g)+1","as":"i"},{"calculate":"datum.i-datum.w","as":"x0"},{"calculate":"datum.i+datum.w","as":"x1"}],
   "mark":{"type":"area","orient":"horizontal","interpolate":"monotone"},
   "encoding":{"y":{"field":"v","type":"quantitative","title":"Expression (log2 CPM)","scale":{"domain":[-1.0,10.4],"nice":false,"zero":false},"axis":{"values":[0,2.5,5,7.5,10],"format":".1f"}},
    "x":{"field":"x0","type":"quantitative","title":"Subtype","scale":{"domain":[0.4,5.6],"nice":false,"zero":false},"axis":{"values":[1,2,3,4,5],"labelExpr":"['Basal','Her2','Lum A','Lum B','Normal'][datum.value-1]"}},
    "x2":{"field":"x1"},
    "color":{"field":"g","type":"nominal","scale":{"domain":["Basal","Her2","Lum A","Lum B","Normal"],"range":["#F0706A","#A3A31A","#17B57A","#14AEEE","#B668BE"]},"legend":null}}},
  {"data":{"name":"box"},"transform":[{"filter":"datum.gene==='CDK1'"},{"calculate":"indexof(['Basal','Her2','Lum A','Lum B','Normal'],datum.g)+1","as":"i"}],
   "encoding":{"x":{"field":"i","type":"quantitative","scale":{"domain":[0.4,5.6],"nice":false,"zero":false},"axis":{"orient":"top","title":["BRCA :: CDK1 exp","P=3.52e−92","n=Basal 172, Her2 73,","Lum A 508, Lum B 191, Normal 137"]}}},
   "layer":[
    {"mark":{"type":"rule","color":"black","strokeWidth":0.7},"encoding":{"y":{"field":"lo","type":"quantitative","title":"Expression (log2 CPM)","scale":{"domain":[-1.0,10.4],"nice":false,"zero":false}},"y2":{"field":"hi"}}},
    {"mark":{"type":"bar","size":5,"fill":"white","stroke":"black","strokeWidth":0.7},"encoding":{"y":{"field":"q1","type":"quantitative","title":"Expression (log2 CPM)","scale":{"domain":[-1.0,10.4],"nice":false,"zero":false}},"y2":{"field":"q3"}}},
    {"mark":{"type":"tick","orient":"horizontal","size":5,"thickness":1,"color":"black"},"encoding":{"y":{"field":"med","type":"quantitative","title":"Expression (log2 CPM)","scale":{"domain":[-1.0,10.4],"nice":false,"zero":false}}}}
   ]}
 ],
 "resolve":{"axis":{"x":"independent"}}},

{"width":128,"height":96,"title":"C",
 "layer":[
  {"data":{"name":"violin"},"transform":[{"filter":"datum.gene==='CENPF'"},{"calculate":"indexof(['Basal','Her2','Lum A','Lum B','Normal'],datum.g)+1","as":"i"},{"calculate":"datum.i-datum.w","as":"x0"},{"calculate":"datum.i+datum.w","as":"x1"}],
   "mark":{"type":"area","orient":"horizontal","interpolate":"monotone"},
   "encoding":{"y":{"field":"v","type":"quantitative","title":"Expression (log2 CPM)","scale":{"domain":[0.8,11.4],"nice":false,"zero":false},"axis":{"values":[3,6,9]}},
    "x":{"field":"x0","type":"quantitative","title":"Subtype","scale":{"domain":[0.4,5.6],"nice":false,"zero":false},"axis":{"values":[1,2,3,4,5],"labelExpr":"['Basal','Her2','Lum A','Lum B','Normal'][datum.value-1]"}},
    "x2":{"field":"x1"},
    "color":{"field":"g","type":"nominal","scale":{"domain":["Basal","Her2","Lum A","Lum B","Normal"],"range":["#F0706A","#A3A31A","#17B57A","#14AEEE","#B668BE"]},"legend":null}}},
  {"data":{"name":"box"},"transform":[{"filter":"datum.gene==='CENPF'"},{"calculate":"indexof(['Basal','Her2','Lum A','Lum B','Normal'],datum.g)+1","as":"i"}],
   "encoding":{"x":{"field":"i","type":"quantitative","scale":{"domain":[0.4,5.6],"nice":false,"zero":false},"axis":{"orient":"top","title":["BRCA :: CENPF exp","P=1.22e−81","n=Basal 172, Her2 73,","Lum A 508, Lum B 191, Normal 137"]}}},
   "layer":[
    {"mark":{"type":"rule","color":"black","strokeWidth":0.7},"encoding":{"y":{"field":"lo","type":"quantitative","title":"Expression (log2 CPM)","scale":{"domain":[0.8,11.4],"nice":false,"zero":false}},"y2":{"field":"hi"}}},
    {"mark":{"type":"bar","size":5,"fill":"white","stroke":"black","strokeWidth":0.7},"encoding":{"y":{"field":"q1","type":"quantitative","title":"Expression (log2 CPM)","scale":{"domain":[0.8,11.4],"nice":false,"zero":false}},"y2":{"field":"q3"}}},
    {"mark":{"type":"tick","orient":"horizontal","size":5,"thickness":1,"color":"black"},"encoding":{"y":{"field":"med","type":"quantitative","title":"Expression (log2 CPM)","scale":{"domain":[0.8,11.4],"nice":false,"zero":false}}}}
   ]}
 ],
 "resolve":{"axis":{"x":"independent"}}},

{"width":112,"height":94,"title":"D",
 "layer":[
  {"data":{"name":"violin"},"transform":[{"filter":"datum.gene==='KIF2C'"},{"calculate":"indexof(['Basal','Her2','Lum A','Lum B','Normal'],datum.g)+1","as":"i"},{"calculate":"datum.i-datum.w","as":"x0"},{"calculate":"datum.i+datum.w","as":"x1"}],
   "mark":{"type":"area","orient":"horizontal","interpolate":"monotone"},
   "encoding":{"y":{"field":"v","type":"quantitative","title":"Expression (log2 CPM)","scale":{"domain":[-2.2,9.7],"nice":false,"zero":false},"axis":{"values":[0,2.5,5,7.5],"format":".1f"}},
    "x":{"field":"x0","type":"quantitative","title":"Subtype","scale":{"domain":[0.4,5.6],"nice":false,"zero":false},"axis":{"values":[1,2,3,4,5],"labelExpr":"['Basal','Her2','Lum A','Lum B','Normal'][datum.value-1]"}},
    "x2":{"field":"x1"},
    "color":{"field":"g","type":"nominal","scale":{"domain":["Basal","Her2","Lum A","Lum B","Normal"],"range":["#F0706A","#A3A31A","#17B57A","#14AEEE","#B668BE"]},"legend":null}}},
  {"data":{"name":"box"},"transform":[{"filter":"datum.gene==='KIF2C'"},{"calculate":"indexof(['Basal','Her2','Lum A','Lum B','Normal'],datum.g)+1","as":"i"}],
   "encoding":{"x":{"field":"i","type":"quantitative","scale":{"domain":[0.4,5.6],"nice":false,"zero":false},"axis":{"orient":"top","title":["BRCA :: KIF2C exp","P=1.09e−116","n=Basal 172, Her2 73,","Lum A 508, Lum B 191, Normal 137"]}}},
   "layer":[
    {"mark":{"type":"rule","color":"black","strokeWidth":0.7},"encoding":{"y":{"field":"lo","type":"quantitative","title":"Expression (log2 CPM)","scale":{"domain":[-2.2,9.7],"nice":false,"zero":false}},"y2":{"field":"hi"}}},
    {"mark":{"type":"bar","size":5,"fill":"white","stroke":"black","strokeWidth":0.7},"encoding":{"y":{"field":"q1","type":"quantitative","title":"Expression (log2 CPM)","scale":{"domain":[-2.2,9.7],"nice":false,"zero":false}},"y2":{"field":"q3"}}},
    {"mark":{"type":"tick","orient":"horizontal","size":5,"thickness":1,"color":"black"},"encoding":{"y":{"field":"med","type":"quantitative","title":"Expression (log2 CPM)","scale":{"domain":[-2.2,9.7],"nice":false,"zero":false}}}}
   ]}
 ],
 "resolve":{"axis":{"x":"independent"}}},

{"width":118,"height":96,"title":"E",
 "layer":[
  {"data":{"name":"violin"},"transform":[{"filter":"datum.gene==='KIF4A'"},{"calculate":"indexof(['Basal','Her2','Lum A','Lum B','Normal'],datum.g)+1","as":"i"},{"calculate":"datum.i-datum.w","as":"x0"},{"calculate":"datum.i+datum.w","as":"x1"}],
   "mark":{"type":"area","orient":"horizontal","interpolate":"monotone"},
   "encoding":{"y":{"field":"v","type":"quantitative","title":"Expression (log2 CPM)","scale":{"domain":[-2.8,9.25],"nice":false,"zero":false},"axis":{"values":[0,3,6,9]}},
    "x":{"field":"x0","type":"quantitative","title":"Subtype","scale":{"domain":[0.4,5.6],"nice":false,"zero":false},"axis":{"values":[1,2,3,4,5],"labelExpr":"['Basal','Her2','Lum A','Lum B','Normal'][datum.value-1]"}},
    "x2":{"field":"x1"},
    "color":{"field":"g","type":"nominal","scale":{"domain":["Basal","Her2","Lum A","Lum B","Normal"],"range":["#F0706A","#A3A31A","#17B57A","#14AEEE","#B668BE"]},"legend":null}}},
  {"data":{"name":"box"},"transform":[{"filter":"datum.gene==='KIF4A'"},{"calculate":"indexof(['Basal','Her2','Lum A','Lum B','Normal'],datum.g)+1","as":"i"}],
   "encoding":{"x":{"field":"i","type":"quantitative","scale":{"domain":[0.4,5.6],"nice":false,"zero":false},"axis":{"orient":"top","title":["BRCA :: KIF4A exp","P=6.59e−99","n=Basal 172, Her2 73,","Lum A 508, Lum B 191, Normal 137"]}}},
   "layer":[
    {"mark":{"type":"rule","color":"black","strokeWidth":0.7},"encoding":{"y":{"field":"lo","type":"quantitative","title":"Expression (log2 CPM)","scale":{"domain":[-2.8,9.25],"nice":false,"zero":false}},"y2":{"field":"hi"}}},
    {"mark":{"type":"bar","size":5,"fill":"white","stroke":"black","strokeWidth":0.7},"encoding":{"y":{"field":"q1","type":"quantitative","title":"Expression (log2 CPM)","scale":{"domain":[-2.8,9.25],"nice":false,"zero":false}},"y2":{"field":"q3"}}},
    {"mark":{"type":"tick","orient":"horizontal","size":5,"thickness":1,"color":"black"},"encoding":{"y":{"field":"med","type":"quantitative","title":"Expression (log2 CPM)","scale":{"domain":[-2.8,9.25],"nice":false,"zero":false}}}}
   ]}
 ],
 "resolve":{"axis":{"x":"independent"}}},

{"width":124,"height":95,"title":"F",
 "layer":[
  {"data":{"name":"violin"},"transform":[{"filter":"datum.gene==='MELK'"},{"calculate":"indexof(['Basal','Her2','Lum A','Lum B','Normal'],datum.g)+1","as":"i"},{"calculate":"datum.i-datum.w","as":"x0"},{"calculate":"datum.i+datum.w","as":"x1"}],
   "mark":{"type":"area","orient":"horizontal","interpolate":"monotone"},
   "encoding":{"y":{"field":"v","type":"quantitative","title":"Expression (log2 CPM)","scale":{"domain":[-3.05,9.35],"nice":false,"zero":false},"axis":{"values":[-3,0,3,6,9]}},
    "x":{"field":"x0","type":"quantitative","title":"Subtype","scale":{"domain":[0.4,5.6],"nice":false,"zero":false},"axis":{"values":[1,2,3,4,5],"labelExpr":"['Basal','Her2','Lum A','Lum B','Normal'][datum.value-1]"}},
    "x2":{"field":"x1"},
    "color":{"field":"g","type":"nominal","scale":{"domain":["Basal","Her2","Lum A","Lum B","Normal"],"range":["#F0706A","#A3A31A","#17B57A","#14AEEE","#B668BE"]},"legend":null}}},
  {"data":{"name":"box"},"transform":[{"filter":"datum.gene==='MELK'"},{"calculate":"indexof(['Basal','Her2','Lum A','Lum B','Normal'],datum.g)+1","as":"i"}],
   "encoding":{"x":{"field":"i","type":"quantitative","scale":{"domain":[0.4,5.6],"nice":false,"zero":false},"axis":{"orient":"top","title":["BRCA :: MELK exp","P=2.52e−111","n=Basal 172, Her2 73,","Lum A 508, Lum B 191, Normal 137"]}}},
   "layer":[
    {"mark":{"type":"rule","color":"black","strokeWidth":0.7},"encoding":{"y":{"field":"lo","type":"quantitative","title":"Expression (log2 CPM)","scale":{"domain":[-3.05,9.35],"nice":false,"zero":false}},"y2":{"field":"hi"}}},
    {"mark":{"type":"bar","size":5,"fill":"white","stroke":"black","strokeWidth":0.7},"encoding":{"y":{"field":"q1","type":"quantitative","title":"Expression (log2 CPM)","scale":{"domain":[-3.05,9.35],"nice":false,"zero":false}},"y2":{"field":"q3"}}},
    {"mark":{"type":"tick","orient":"horizontal","size":5,"thickness":1,"color":"black"},"encoding":{"y":{"field":"med","type":"quantitative","title":"Expression (log2 CPM)","scale":{"domain":[-3.05,9.35],"nice":false,"zero":false}}}}
   ]}
 ],
 "resolve":{"axis":{"x":"independent"}}},

{"width":128,"height":95,"title":"G",
 "layer":[
  {"data":{"name":"violin"},"transform":[{"filter":"datum.gene==='PBK'"},{"calculate":"indexof(['Basal','Her2','Lum A','Lum B','Normal'],datum.g)+1","as":"i"},{"calculate":"datum.i-datum.w","as":"x0"},{"calculate":"datum.i+datum.w","as":"x1"}],
   "mark":{"type":"area","orient":"horizontal","interpolate":"monotone"},
   "encoding":{"y":{"field":"v","type":"quantitative","title":"Expression (log2 CPM)","scale":{"domain":[-5.08,7.97],"nice":false,"zero":false},"axis":{"values":[-5,-2.5,0,2.5,5,7.5],"format":".1f"}},
    "x":{"field":"x0","type":"quantitative","title":"Subtype","scale":{"domain":[0.4,5.6],"nice":false,"zero":false},"axis":{"values":[1,2,3,4,5],"labelExpr":"['Basal','Her2','Lum A','Lum B','Normal'][datum.value-1]"}},
    "x2":{"field":"x1"},
    "color":{"field":"g","type":"nominal","scale":{"domain":["Basal","Her2","Lum A","Lum B","Normal"],"range":["#F0706A","#A3A31A","#17B57A","#14AEEE","#B668BE"]},"legend":null}}},
  {"data":{"name":"box"},"transform":[{"filter":"datum.gene==='PBK'"},{"calculate":"indexof(['Basal','Her2','Lum A','Lum B','Normal'],datum.g)+1","as":"i"}],
   "encoding":{"x":{"field":"i","type":"quantitative","scale":{"domain":[0.4,5.6],"nice":false,"zero":false},"axis":{"orient":"top","title":["BRCA :: PBK exp","P=1.86e−65","n=Basal 172, Her2 73,","Lum A 508, Lum B 191, Normal 137"]}}},
   "layer":[
    {"mark":{"type":"rule","color":"black","strokeWidth":0.7},"encoding":{"y":{"field":"lo","type":"quantitative","title":"Expression (log2 CPM)","scale":{"domain":[-5.08,7.97],"nice":false,"zero":false}},"y2":{"field":"hi"}}},
    {"mark":{"type":"bar","size":5,"fill":"white","stroke":"black","strokeWidth":0.7},"encoding":{"y":{"field":"q1","type":"quantitative","title":"Expression (log2 CPM)","scale":{"domain":[-5.08,7.97],"nice":false,"zero":false}},"y2":{"field":"q3"}}},
    {"mark":{"type":"tick","orient":"horizontal","size":5,"thickness":1,"color":"black"},"encoding":{"y":{"field":"med","type":"quantitative","title":"Expression (log2 CPM)","scale":{"domain":[-5.08,7.97],"nice":false,"zero":false}}}}
   ]}
 ],
 "resolve":{"axis":{"x":"independent"}}},

{"width":112,"height":93,"title":"H",
 "layer":[
  {"data":{"name":"violin"},"transform":[{"filter":"datum.gene==='PRC1'"},{"calculate":"indexof(['Basal','Her2','Lum A','Lum B','Normal'],datum.g)+1","as":"i"},{"calculate":"datum.i-datum.w","as":"x0"},{"calculate":"datum.i+datum.w","as":"x1"}],
   "mark":{"type":"area","orient":"horizontal","interpolate":"monotone"},
   "encoding":{"y":{"field":"v","type":"quantitative","title":"Expression (log2 CPM)","scale":{"domain":[0.5,10.15],"nice":false,"zero":false},"axis":{"values":[2.5,5,7.5,10],"format":".1f"}},
    "x":{"field":"x0","type":"quantitative","title":"Subtype","scale":{"domain":[0.4,5.6],"nice":false,"zero":false},"axis":{"values":[1,2,3,4,5],"labelExpr":"['Basal','Her2','Lum A','Lum B','Normal'][datum.value-1]"}},
    "x2":{"field":"x1"},
    "color":{"field":"g","type":"nominal","scale":{"domain":["Basal","Her2","Lum A","Lum B","Normal"],"range":["#F0706A","#A3A31A","#17B57A","#14AEEE","#B668BE"]},"legend":null}}},
  {"data":{"name":"box"},"transform":[{"filter":"datum.gene==='PRC1'"},{"calculate":"indexof(['Basal','Her2','Lum A','Lum B','Normal'],datum.g)+1","as":"i"}],
   "encoding":{"x":{"field":"i","type":"quantitative","scale":{"domain":[0.4,5.6],"nice":false,"zero":false},"axis":{"orient":"top","title":["BRCA :: PRC1 exp","P=3.71e−87","n=Basal 172, Her2 73,","Lum A 508, Lum B 191, Normal 137"]}}},
   "layer":[
    {"mark":{"type":"rule","color":"black","strokeWidth":0.7},"encoding":{"y":{"field":"lo","type":"quantitative","title":"Expression (log2 CPM)","scale":{"domain":[0.5,10.15],"nice":false,"zero":false}},"y2":{"field":"hi"}}},
    {"mark":{"type":"bar","size":5,"fill":"white","stroke":"black","strokeWidth":0.7},"encoding":{"y":{"field":"q1","type":"quantitative","title":"Expression (log2 CPM)","scale":{"domain":[0.5,10.15],"nice":false,"zero":false}},"y2":{"field":"q3"}}},
    {"mark":{"type":"tick","orient":"horizontal","size":5,"thickness":1,"color":"black"},"encoding":{"y":{"field":"med","type":"quantitative","title":"Expression (log2 CPM)","scale":{"domain":[0.5,10.15],"nice":false,"zero":false}}}}
   ]}
 ],
 "resolve":{"axis":{"x":"independent"}}},

{"width":118,"height":96,"title":"I",
 "layer":[
  {"data":{"name":"violin"},"transform":[{"filter":"datum.gene==='TOP2A'"},{"calculate":"indexof(['Basal','Her2','Lum A','Lum B','Normal'],datum.g)+1","as":"i"},{"calculate":"datum.i-datum.w","as":"x0"},{"calculate":"datum.i+datum.w","as":"x1"}],
   "mark":{"type":"area","orient":"horizontal","interpolate":"monotone"},
   "encoding":{"y":{"field":"v","type":"quantitative","title":"Expression (log2 CPM)","scale":{"domain":[-1.0,13.3],"nice":false,"zero":false},"axis":{"values":[0,5,10]}},
    "x":{"field":"x0","type":"quantitative","title":"Subtype","scale":{"domain":[0.4,5.6],"nice":false,"zero":false},"axis":{"values":[1,2,3,4,5],"labelExpr":"['Basal','Her2','Lum A','Lum B','Normal'][datum.value-1]"}},
    "x2":{"field":"x1"},
    "color":{"field":"g","type":"nominal","scale":{"domain":["Basal","Her2","Lum A","Lum B","Normal"],"range":["#F0706A","#A3A31A","#17B57A","#14AEEE","#B668BE"]},"legend":null}}},
  {"data":{"name":"box"},"transform":[{"filter":"datum.gene==='TOP2A'"},{"calculate":"indexof(['Basal','Her2','Lum A','Lum B','Normal'],datum.g)+1","as":"i"}],
   "encoding":{"x":{"field":"i","type":"quantitative","scale":{"domain":[0.4,5.6],"nice":false,"zero":false},"axis":{"orient":"top","title":["BRCA :: TOP2A exp","P=6.53e−65","n=Basal 172, Her2 73,","Lum A 508, Lum B 191, Normal 137"]}}},
   "layer":[
    {"mark":{"type":"rule","color":"black","strokeWidth":0.7},"encoding":{"y":{"field":"lo","type":"quantitative","title":"Expression (log2 CPM)","scale":{"domain":[-1.0,13.3],"nice":false,"zero":false}},"y2":{"field":"hi"}}},
    {"mark":{"type":"bar","size":5,"fill":"white","stroke":"black","strokeWidth":0.7},"encoding":{"y":{"field":"q1","type":"quantitative","title":"Expression (log2 CPM)","scale":{"domain":[-1.0,13.3],"nice":false,"zero":false}},"y2":{"field":"q3"}}},
    {"mark":{"type":"tick","orient":"horizontal","size":5,"thickness":1,"color":"black"},"encoding":{"y":{"field":"med","type":"quantitative","title":"Expression (log2 CPM)","scale":{"domain":[-1.0,13.3],"nice":false,"zero":false}}}}
   ]}
 ],
 "resolve":{"axis":{"x":"independent"}}},

{"width":124,"height":94,"title":"J",
 "layer":[
  {"data":{"name":"violin"},"transform":[{"filter":"datum.gene==='TPX2'"},{"calculate":"indexof(['Basal','Her2','Lum A','Lum B','Normal'],datum.g)+1","as":"i"},{"calculate":"datum.i-datum.w","as":"x0"},{"calculate":"datum.i+datum.w","as":"x1"}],
   "mark":{"type":"area","orient":"horizontal","interpolate":"monotone"},
   "encoding":{"y":{"field":"v","type":"quantitative","title":"Expression (log2 CPM)","scale":{"domain":[-0.64,10.52],"nice":false,"zero":false},"axis":{"values":[0,2.5,5,7.5,10],"format":".1f"}},
    "x":{"field":"x0","type":"quantitative","title":"Subtype","scale":{"domain":[0.4,5.6],"nice":false,"zero":false},"axis":{"values":[1,2,3,4,5],"labelExpr":"['Basal','Her2','Lum A','Lum B','Normal'][datum.value-1]"}},
    "x2":{"field":"x1"},
    "color":{"field":"g","type":"nominal","scale":{"domain":["Basal","Her2","Lum A","Lum B","Normal"],"range":["#F0706A","#A3A31A","#17B57A","#14AEEE","#B668BE"]},"legend":null}}},
  {"data":{"name":"box"},"transform":[{"filter":"datum.gene==='TPX2'"},{"calculate":"indexof(['Basal','Her2','Lum A','Lum B','Normal'],datum.g)+1","as":"i"}],
   "encoding":{"x":{"field":"i","type":"quantitative","scale":{"domain":[0.4,5.6],"nice":false,"zero":false},"axis":{"orient":"top","title":["BRCA :: TPX2 exp","P=5.35e−117","n=Basal 172, Her2 73,","Lum A 508, Lum B 191, Normal 137"]}}},
   "layer":[
    {"mark":{"type":"rule","color":"black","strokeWidth":0.7},"encoding":{"y":{"field":"lo","type":"quantitative","title":"Expression (log2 CPM)","scale":{"domain":[-0.64,10.52],"nice":false,"zero":false}},"y2":{"field":"hi"}}},
    {"mark":{"type":"bar","size":5,"fill":"white","stroke":"black","strokeWidth":0.7},"encoding":{"y":{"field":"q1","type":"quantitative","title":"Expression (log2 CPM)","scale":{"domain":[-0.64,10.52],"nice":false,"zero":false}},"y2":{"field":"q3"}}},
    {"mark":{"type":"tick","orient":"horizontal","size":5,"thickness":1,"color":"black"},"encoding":{"y":{"field":"med","type":"quantitative","title":"Expression (log2 CPM)","scale":{"domain":[-0.64,10.52],"nice":false,"zero":false}}}}
   ]}
 ],
 "resolve":{"axis":{"x":"independent"}}}
],
"config":{
 "font":"Liberation Sans",
 "view":{"stroke":"#333333","strokeWidth":1},
 "axis":{"grid":false,"domain":false,"tickColor":"#333333","tickSize":3,"labelFontSize":9,"labelColor":"#333333","titleFontSize":10,"titleFontWeight":"normal","titleColor":"#000000","labelPadding":1,"titlePadding":3,"labelOverlap":false,"labelFlush":false},
 "axisY":{"tickCount":12},
 "axisBottom":{"labelAngle":-45},
 "axisTop":{"labels":false,"ticks":false,"titleFontSize":6.5,"titleLineHeight":7.5,"titlePadding":3,"titleColor":"#333333"},
 "title":{"fontWeight":"normal","fontSize":15,"anchor":"start","frame":"bounds","offset":-16,"color":"#000000"}
}
}
